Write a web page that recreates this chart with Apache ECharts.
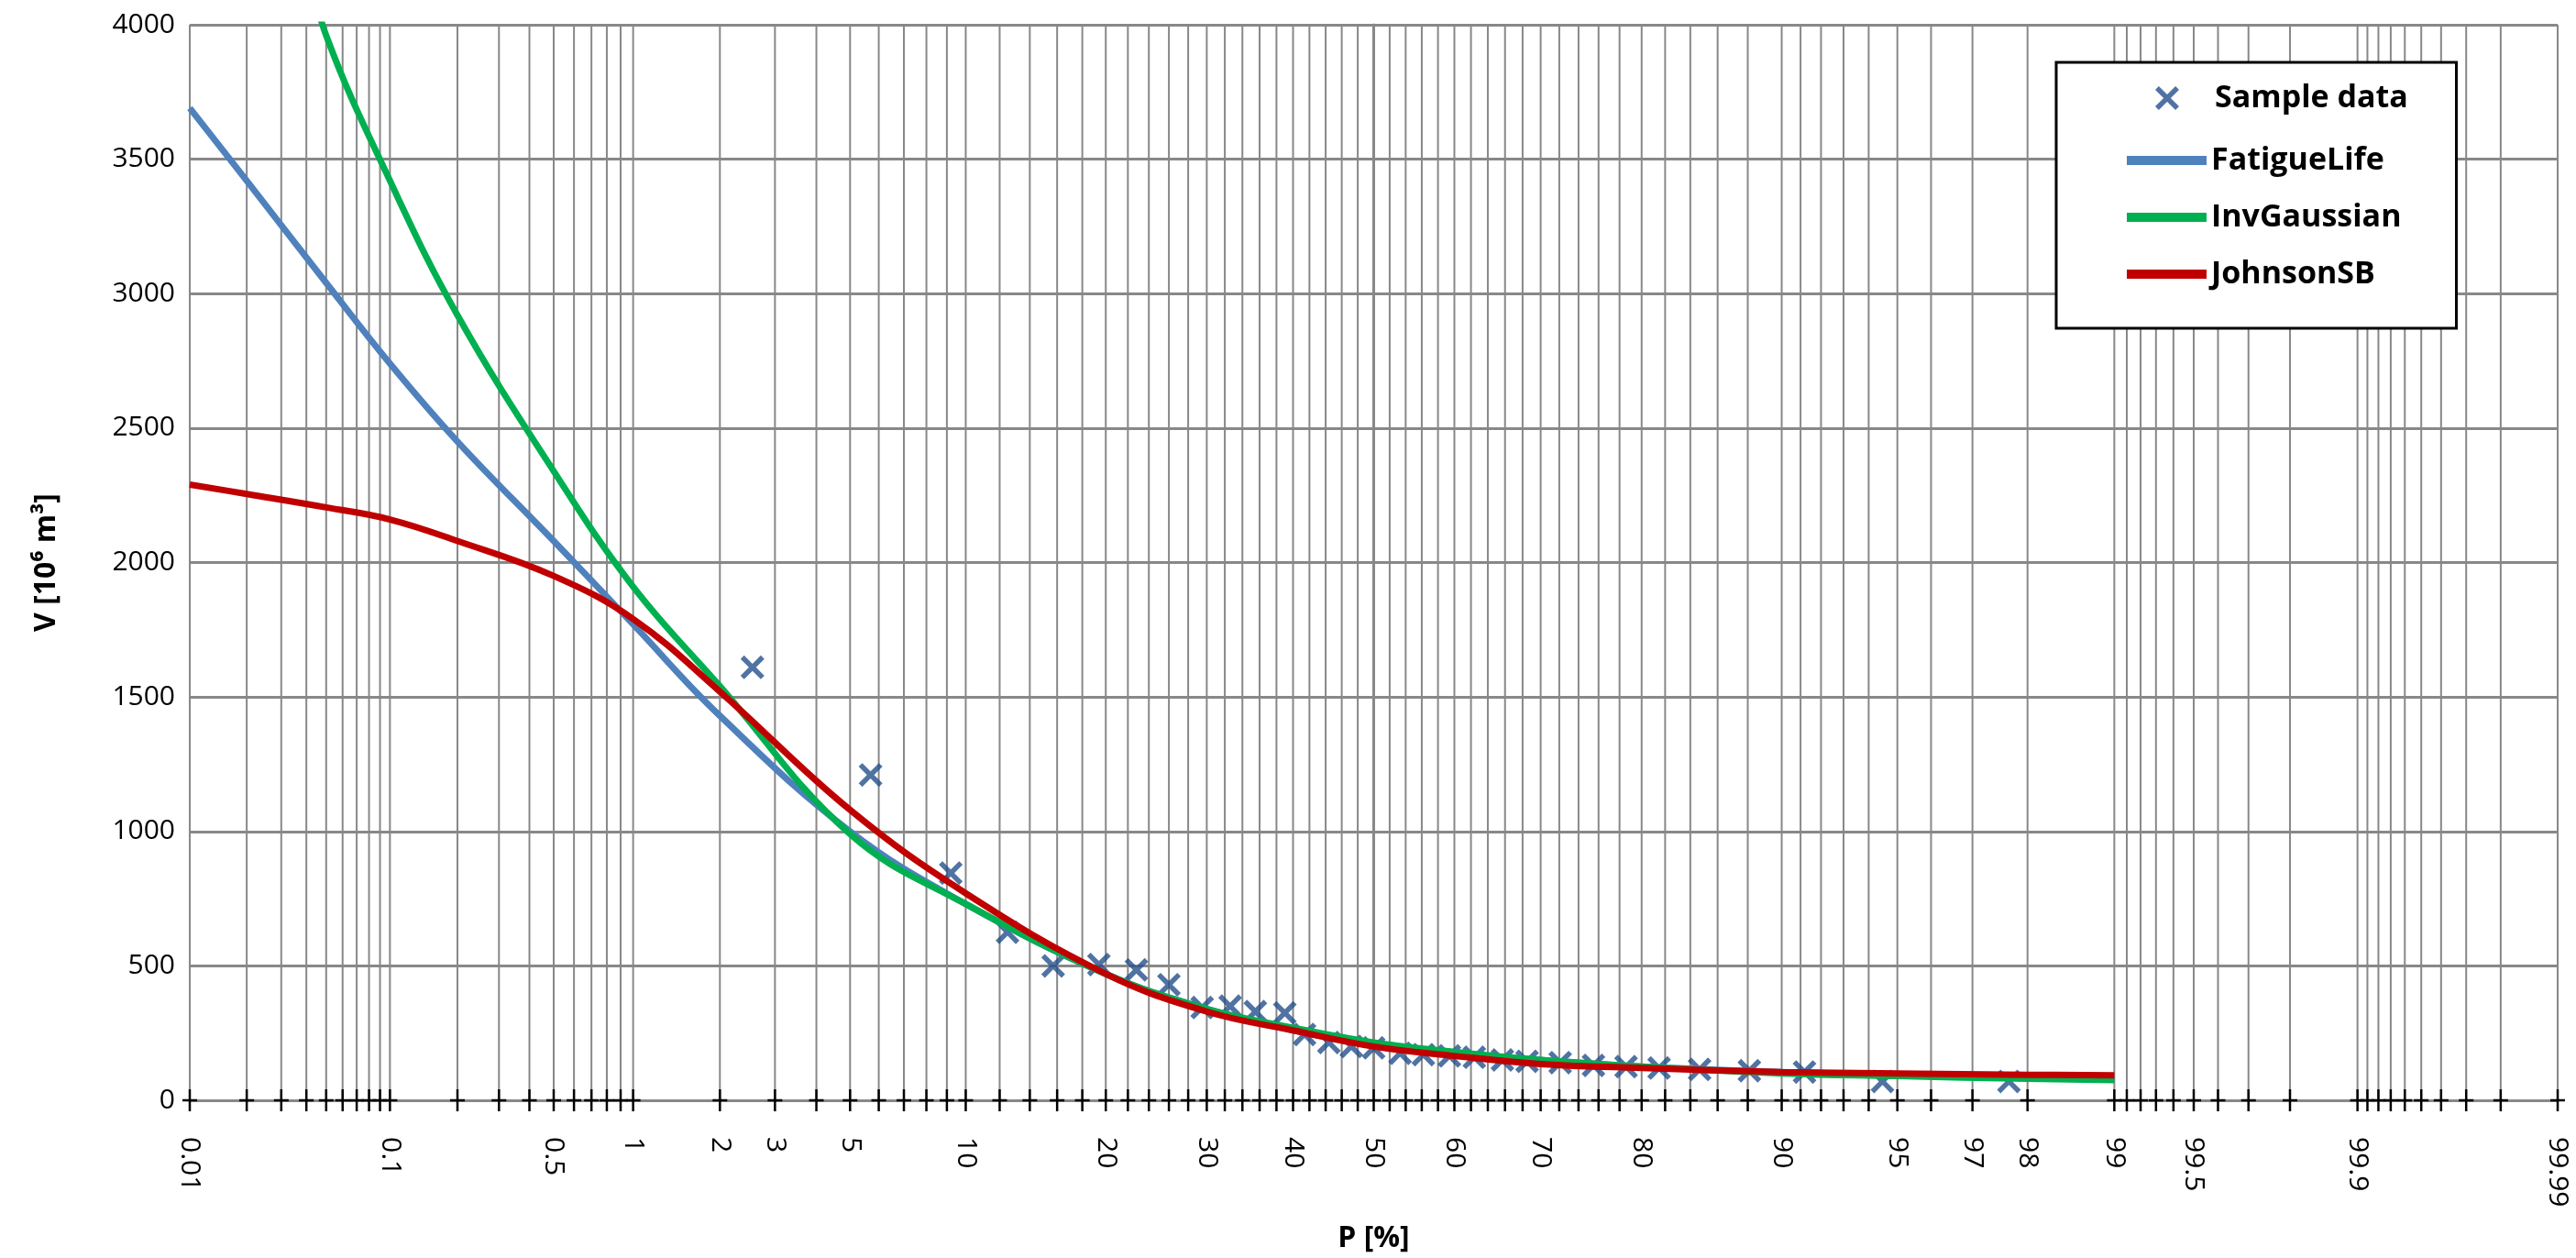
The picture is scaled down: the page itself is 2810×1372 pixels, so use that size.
<!DOCTYPE html>
<html>
<head>
<meta charset="utf-8">
<script src="https://cdn.jsdelivr.net/npm/echarts@6/dist/echarts.min.js"></script>
<style>html,body{margin:0;padding:0;background:#fff}#chart{width:2810px;height:1372px}</style>
</head>
<body>
<div id="chart"></div>
<script>
// probability values (%) and volumes
var sampleP = [2.55, 5.7, 9.2, 12.5, 15.7, 19.4, 22.8, 26.0, 29.5, 32.6, 35.5, 39.0, 41.4, 44.4, 47.2, 50.0,
    53.3, 56.2, 59.4, 62.4, 65.7, 68.5, 72.1, 75.5, 78.6, 81.5, 84.7, 88.1, 91.2, 94.5, 97.7];
var sampleV = [1610, 1210, 845, 625, 500, 505, 485, 430, 345, 350, 330, 325, 245, 215, 200, 195,
    175, 170, 165, 160, 150, 145, 140, 130, 125, 120, 115, 110, 105, 70, 70];

var curveP = [0.01, 0.02, 0.05, 0.1, 0.2, 0.5, 1, 2, 5, 10, 20, 30, 40, 50, 60, 70, 80, 90, 95, 98, 99];
var fatigueV = [3690, 3420, 3040, 2740, 2450, 2080, 1770, 1430, 1000, 730, 470, 340, 260, 210, 175, 150, 125, 105, 95, 85, 80];
var invGaussP = [0.04, 0.05, 0.1, 0.2, 0.5, 1, 2, 5, 10, 20, 30, 40, 50, 60, 70, 80, 90, 95, 98, 99];
var invGaussV = [4250, 3960, 3420, 2920, 2340, 1910, 1540, 990, 730, 470, 340, 270, 215, 180, 150, 125, 100, 90, 80, 75];
var johnsonV = [2290, 2255, 2205, 2160, 2080, 1950, 1790, 1520, 1080, 770, 470, 330, 260, 200, 165, 135, 120, 105, 100, 95, 93];

var tickLabels = ['0.01', '0.1', '0.5', '1', '2', '3', '5', '10', '20', '30', '40', '50', '60', '70', '80',
    '90', '95', '97', '98', '99', '99.5', '99.9', '99.99'];
var gridLow = [0.01, 0.02, 0.03, 0.04, 0.05, 0.06, 0.07, 0.08, 0.09, 0.1, 0.2, 0.3, 0.4, 0.5, 0.6, 0.7, 0.8, 0.9,
    1, 2, 3, 4, 5, 6, 7, 8, 9, 10, 12, 14, 16, 18, 20, 22, 24, 26, 28, 30, 32, 34, 36, 38, 40, 42, 44, 46, 48, 50];

// inverse normal CDF (Acklam), used as the probability-paper scale
function probit(p) {
    var a = [-39.6968302866538, 220.946098424521, -275.928510446969, 138.357751867269, -30.6647980661472, 2.50662827745924];
    var b = [-54.4760987982241, 161.585836858041, -155.698979859887, 66.8013118877197, -13.2806815528857];
    var c = [-0.00778489400243029, -0.322396458041136, -2.40075827716184, -2.54973253934373, 4.37466414146497, 2.93816398269878];
    var d = [0.00778469570904146, 0.32246712907004, 2.445134137143, 3.75440866190742];
    var q, r;
    if (p < 0.02425) {
        q = Math.sqrt(-2 * Math.log(p));
        return (((((c[0]*q+c[1])*q+c[2])*q+c[3])*q+c[4])*q+c[5]) / ((((d[0]*q+d[1])*q+d[2])*q+d[3])*q+1);
    }
    if (p > 1 - 0.02425) {
        q = Math.sqrt(-2 * Math.log(1 - p));
        return -(((((c[0]*q+c[1])*q+c[2])*q+c[3])*q+c[4])*q+c[5]) / ((((d[0]*q+d[1])*q+d[2])*q+d[3])*q+1);
    }
    q = p - 0.5; r = q * q;
    return (((((a[0]*r+a[1])*r+a[2])*r+a[3])*r+a[4])*r+a[5])*q / (((((b[0]*r+b[1])*r+b[2])*r+b[3])*r+b[4])*r+1);
}
function z(pct) { return probit(pct / 100); }
function pairs(ps, vs) { return ps.map(function (p, i) { return [z(p), vs[i]]; }); }

var gridP = gridLow.slice();
for (var i = gridLow.length - 2; i >= 0; i--) gridP.push(+(100 - gridLow[i]).toFixed(2));

var zMin = z(0.01), zMax = z(99.99);
var font = '"Open Sans", "Liberation Sans", sans-serif';
var xMark = 'path://M0,1.5L1.5,0L5,3.5L8.5,0L10,1.5L6.5,5L10,8.5L8.5,10L5,6.5L1.5,10L0,8.5L3.5,5Z';
var legendText = {fontFamily: font, fontWeight: 'bold', fontSize: 34, color: '#000'};

var chart = echarts.init(document.getElementById('chart'));
chart.setOption({
    animation: false,
    grid: {left: 207, right: 20, top: 27, bottom: 165},
    legend: [{
        left: 2243, top: 68, orient: 'vertical', icon: 'rect',
        padding: [90, 60, 42, 77], itemGap: 28, itemWidth: 87, itemHeight: 10,
        backgroundColor: '#fff', borderColor: '#000', borderWidth: 3,
        textStyle: legendText,
        data: ['FatigueLife', 'InvGaussian', 'JohnsonSB']
    }, {
        left: 2351, top: 90, orient: 'vertical', icon: xMark, z: 10,
        padding: 0, itemWidth: 26, itemHeight: 26,
        textStyle: Object.assign({padding: [0, 0, 0, 34]}, legendText),
        data: ['Sample data']
    }],
    xAxis: {
        type: 'value', min: zMin, max: zMax,
        axisLine: {show: true, onZero: false, lineStyle: {color: '#888', width: 3}},
        axisTick: {show: false}, axisLabel: {show: false}, splitLine: {show: false},
        name: 'P [%]', nameLocation: 'middle', nameGap: 135,
        nameTextStyle: {fontFamily: font, fontWeight: 'bold', fontSize: 32, color: '#000'}
    },
    yAxis: {
        type: 'value', min: 0, max: 4000, interval: 500,
        axisLine: {show: true, lineStyle: {color: '#888', width: 3}},
        axisTick: {show: false},
        axisLabel: {fontFamily: font, fontSize: 30, color: '#000', margin: 16, formatter: function (v) { return String(v); }},
        splitLine: {show: true, lineStyle: {color: '#888', width: 3}},
        name: 'V [10⁶ m³]', nameLocation: 'middle', nameGap: 140,
        nameTextStyle: {fontFamily: font, fontWeight: 'bold', fontSize: 32, color: '#000'}
    },
    series: [
        {
            type: 'custom', silent: true, z: 1,
            data: gridP.map(function (p) { return [z(p)]; }),
            renderItem: function (params, api) {
                var top = api.coord([api.value(0), 4000]);
                var bot = api.coord([api.value(0), 0]);
                return {type: 'group', children: [
                    {type: 'line', shape: {x1: top[0], y1: top[1], x2: bot[0], y2: bot[1]}, style: {stroke: '#888', lineWidth: 2}},
                    {type: 'line', shape: {x1: bot[0], y1: bot[1] - 12, x2: bot[0], y2: bot[1] + 12}, style: {stroke: '#000', lineWidth: 2.5}},
                    {type: 'line', shape: {x1: bot[0] - 8, y1: bot[1], x2: bot[0] + 8, y2: bot[1]}, style: {stroke: '#000', lineWidth: 2.5}}
                ]};
            }
        },
        {
            type: 'custom', silent: true, z: 1,
            data: tickLabels.map(function (t) { return [z(parseFloat(t)), t]; }),
            renderItem: function (params, api) {
                var pt = api.coord([api.value(0), 0]);
                return {type: 'text', x: pt[0], y: pt[1] + 40, rotation: -Math.PI / 2,
                    style: {text: tickLabels[params.dataIndex], fontFamily: font, fontSize: 30, fill: '#000',
                        align: 'left', verticalAlign: 'middle'}};
            }
        },
        {
            name: 'Sample data', type: 'scatter', z: 3, symbol: xMark, symbolSize: 26,
            itemStyle: {color: '#24508c'}, data: pairs(sampleP, sampleV)
        },
        {
            name: 'FatigueLife', type: 'line', z: 4, smooth: 0.4, symbol: 'none', clip: true,
            itemStyle: {color: '#4f81bd'}, lineStyle: {color: '#4f81bd', width: 7}, data: pairs(curveP, fatigueV)
        },
        {
            name: 'InvGaussian', type: 'line', z: 5, smooth: 0.4, symbol: 'none', clip: true,
            itemStyle: {color: '#00b050'}, lineStyle: {color: '#00b050', width: 7}, data: pairs(invGaussP, invGaussV)
        },
        {
            name: 'JohnsonSB', type: 'line', z: 6, smooth: 0.4, symbol: 'none', clip: true,
            itemStyle: {color: '#c00000'}, lineStyle: {color: '#c00000', width: 7}, data: pairs(curveP, johnsonV)
        }
    ]
});
</script>
</body>
</html>
